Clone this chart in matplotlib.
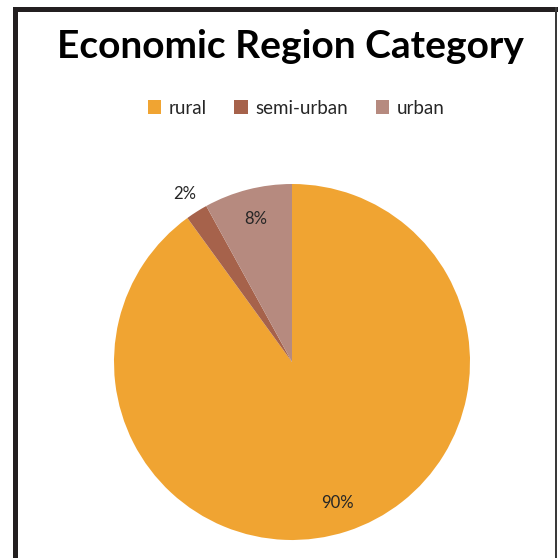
import matplotlib
matplotlib.use("Agg")
import matplotlib.pyplot as plt
from matplotlib.patches import Rectangle, Patch

categories = ["rural", "semi-urban", "urban"]
shares = [90, 2, 8]
colors = ["#F0A432", "#A6624B", "#B68A7F"]

W = H = 558
fig = plt.figure(figsize=(W / 100, H / 100), dpi=100)
fig.patch.set_facecolor("white")

def px(x, y, w, h):
    return (x / W, 1 - (y + h) / H, w / W, h / H)

# frame: thick top/left edges, thin right edge
for (x, y, w, h, c) in [(13, 7, 545, 5, "#231f20"), (13, 7, 5, 551, "#231f20"),
                        (555, 7, 2, 551, "#3a3a3a")]:
    fx, fy, fw, fh = px(x, y, w, h)
    fig.add_artist(Rectangle((fx, fy), fw, fh, transform=fig.transFigure,
                             facecolor=c, edgecolor="none"))

cx, cy, r = 292, 362, 178
ax = fig.add_axes(px(cx - r, cy - r, 2 * r, 2 * r))
ax.axis("off")

wedges, texts, autotexts = ax.pie(
    shares, colors=colors, startangle=90, counterclock=False,
    radius=1.0, autopct=lambda p: f"{p:.0f}%", pctdistance=0.83,
    textprops=dict(fontsize=12, color="#262626", family="Lato"),
    wedgeprops=dict(linewidth=0),
)
ax.set_xlim(-1, 1)
ax.set_ylim(-1, 1)
ax.set_aspect("equal")
# the small slice's label sits just outside the pie
x2, y2 = autotexts[1].get_position()
autotexts[1].set_position((x2 / 0.83 * 1.12, y2 / 0.83 * 1.12))

fig.text(290 / W, 1 - 46 / H, "Economic Region Category", ha="center", va="center",
         fontsize=28, fontweight="bold", family="Lato", color="black")

handles = [Patch(facecolor=c, edgecolor="none") for c in colors]
fig.legend(handles, categories, loc="center", bbox_to_anchor=(296 / W, 1 - 108 / H),
           ncol=3, frameon=False, prop=dict(family="Lato", size=13.5),
           handlelength=0.7, handleheight=0.7, handletextpad=0.4,
           columnspacing=1.5, labelcolor="#262626")

fig.savefig("out.png", dpi=100, facecolor="white")
